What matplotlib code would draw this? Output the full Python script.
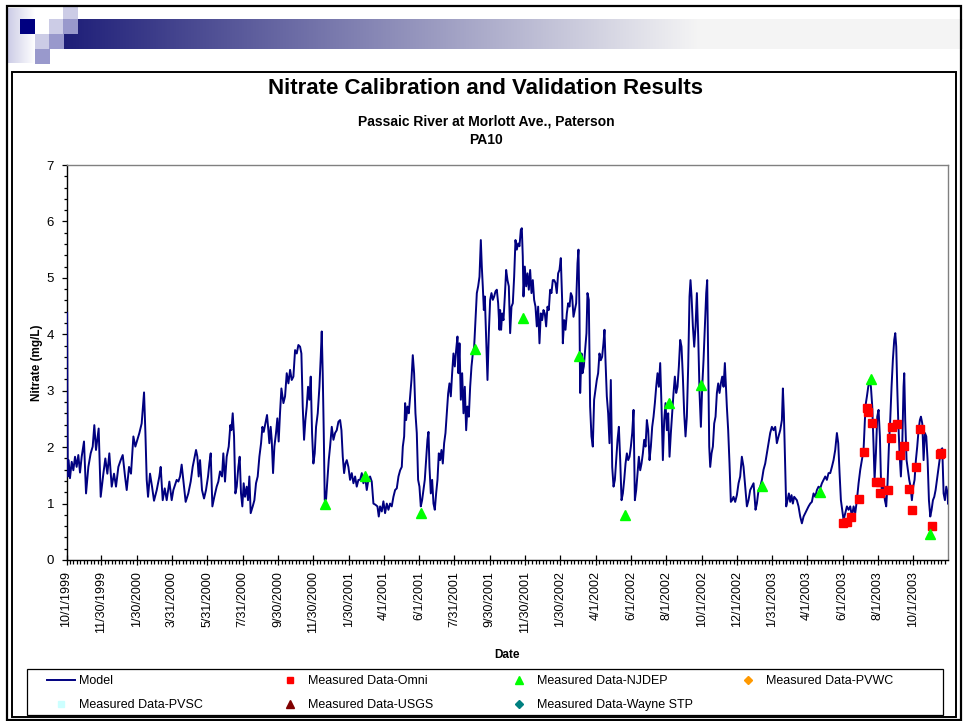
import matplotlib
matplotlib.use("Agg")
import matplotlib.pyplot as plt
from matplotlib.lines import Line2D
from matplotlib.patches import Rectangle
from matplotlib.ticker import MultipleLocator, FixedLocator
from datetime import date
import numpy as np

plt.rcParams['font.family'] = ['Liberation Sans', 'DejaVu Sans']

'''
    CHART DATA (days counted from START)
'''
START = date(1999, 10, 1)
END = date(2003, 11, 30)

TICK_DATES = ["1999-10-01", "1999-11-30", "2000-01-30", "2000-03-31", "2000-05-31",
              "2000-07-31", "2000-09-30", "2000-11-30", "2001-01-30", "2001-04-01",
              "2001-06-01", "2001-07-31", "2001-09-30", "2001-11-30", "2002-01-30",
              "2002-04-01", "2002-06-01", "2002-08-01", "2002-10-01", "2002-12-01",
              "2003-01-31", "2003-04-01", "2003-06-01", "2003-08-01", "2003-10-01"]

model_day = [
    1, 2.2, 3.6, 6, 9, 11.8, 14.7, 17.5, 20.4, 23.3, 26.2, 30.2, 33.7, 37.7, 41.7, 45.2,
    48, 50.9, 55.5, 59, 63.6, 67, 70.5, 73.9, 78, 82, 85.4, 89.5, 93.5, 97, 101, 103.9,
    107.9, 111.3, 115.4, 118.8, 122.3, 125.7, 129.7, 133.8, 136.1, 138.4, 140.7, 144.1,
    147.6, 151, 155.7, 160.2, 162.5, 166, 169.5, 172.9, 177.5,
    181.5, 184.4, 187.2, 190.1, 193, 195.9, 198.7, 201.6, 205.6, 210.2, 214.3, 217.7,
    220, 223.5, 225.8, 228.1, 230.4, 233.8, 237.3, 240.7, 244.2, 246.5, 248.8, 251.7,
    255.1, 259.1, 262, 264.9, 268.3, 270.6, 273.5, 276.4, 279.9, 282.7, 284.5, 286.8,
    289.1, 291.4, 293.7, 296.5, 298.8, 301.1, 303.4, 305.7, 308, 310.9, 313.2, 315.5,
    317.8, 321.3, 324.2, 327, 329.9, 332.8, 335.7, 338, 340.3, 343.1, 346, 348.3, 350,
    352.3, 354.1, 356.4, 358.7, 361.5, 363.8, 366.1, 368.4, 370.8,
    374.3, 377.1, 380, 382.9, 385.8, 388.6, 391.5, 394.4, 397.3, 400.1, 403, 405.3,
    407.6, 409.9, 412.2, 414.5, 416.8, 419.1, 421.4, 423.7, 426, 428.3, 430.6, 433.5,
    436.4, 438.7, 440.4, 442.1, 443.9, 445.6, 447.9, 450.2, 452.5, 454.8, 457.7, 460.6,
    463.4, 466.3, 469.2, 472.1, 474.4, 476.7, 479, 481.3, 483.6, 486.4, 489.3, 492.2,
    495.1, 498, 500.8, 503.7, 506.6, 509.5, 512.3, 515.2, 518.1, 520.4, 523.8, 526.7,
    529.6, 533, 536.5, 538.8, 541.1, 544, 546.8, 549.7, 552.6, 555.5, 558.3, 561.2, 564.1,
    567, 569.9, 572.8, 575.7, 578.5, 580.3, 582.6, 584.3, 586, 588.3, 590.6, 592.9,
    595.2, 597.5, 599.8, 602.1, 604.4, 606.7, 609, 611.3, 613.6, 615.9, 618.2, 620.5,
    622.8, 624.6, 626.3, 628.6, 630.9, 633.2, 635.5, 637.8, 640.1, 642.4, 644.7, 647,
    649.3, 651.6, 653.9, 656.2, 658.5, 660.8, 663.1, 665.4, 667.7, 670, 672.3, 674.6,
    676.3, 678.1, 680.4, 682.7, 685, 687.3, 689.6, 691.9, 694.2, 696.5, 698.8, 701.1,
    703.4, 705.7, 708, 710.3, 712.6, 714.9, 716.6, 718.3, 720.1, 721.8, 724.1, 726.4,
    728.7, 731, 733.3, 735.6, 737.9, 740.2, 742.5, 744.8, 747.1,
    748.2, 749.9, 751.7, 754, 756.3, 758.6, 760.9, 763.2, 765.5, 767.8, 770.1, 772.4,
    774.7, 777, 779.3, 781.6, 783.9, 785.6, 787.3, 788.5, 790.8, 793.1, 795.4, 797.7,
    800, 802.3, 804.6, 806.9, 809.2, 811.5, 813.8, 816.1, 818.4, 820.7, 823, 825.3,
    827.6, 829.9, 832.2, 834.5, 836.8, 839.1, 841.4, 843.7, 846, 848.3, 850.6, 852.9,
    855.2, 856.4, 858.7, 861, 863.3, 865.6, 867.9, 870.2, 872.5, 874.8, 877.1, 879.4,
    881.7, 883.4, 885.1, 886.3, 888.6, 890.3, 892.6, 894.9, 897.2, 898.9, 901.2, 903.5,
    905.8, 908.1, 910.4, 912.7, 915, 917.3, 919.6, 921.9, 924.2, 926.5, 928.3, 930,
    932.3, 934.6, 936.9, 939.2,
    941.6, 943.9, 946.2, 948.5, 950.8, 953.1, 955.4, 957.7, 960, 962.3, 964.6, 966.9,
    969.2, 971.5, 973.8, 976.1, 978.4, 980.7, 983, 985.3, 987.6, 989.9, 992.2, 994.5,
    996.8, 999.1, 1001.4, 1003.7, 1006, 1008.3, 1010.6, 1012.9, 1015.2, 1017.5, 1019.8,
    1022.1, 1024.4, 1026.7, 1029, 1031.3, 1033.6, 1035.9, 1038.2, 1040.5, 1042.8,
    1045.1, 1047.4, 1049.7, 1052, 1054.3, 1056.6, 1058.9, 1061.2, 1063.5, 1065.8,
    1068.1, 1070.4, 1072.7, 1075, 1076.7, 1078.5, 1080.8, 1083.1, 1085.4, 1087.7, 1090,
    1092.3, 1094.6, 1096.9, 1099.2, 1101.5, 1103.8, 1105.5, 1107.2, 1109, 1110.7, 1113,
    1115.3, 1117.6, 1119.9, 1122.2, 1124.5, 1126.8, 1129.1, 1131.4, 1133.7, 1136,
    1139.4, 1141.7, 1144, 1146.3, 1148.6, 1150.9, 1153.8, 1156.7, 1159.6, 1162.4,
    1165.3, 1168.2, 1171.1, 1174, 1176.8, 1179.7, 1182.6, 1185.5, 1188.9, 1191.2,
    1194.1, 1197, 1199.9, 1202.7, 1205.6, 1208.5, 1211.4, 1214.2, 1217.1, 1220, 1222.9,
    1225.7, 1228.6, 1231.5, 1234.4, 1236.1, 1237.8, 1240.1, 1241.8, 1244.1, 1246.4,
    1248.7, 1251, 1253.3, 1255.6, 1257.9, 1260.2, 1263.1, 1266, 1268.9, 1271.8, 1274.6,
    1277.5, 1280.4, 1283.3, 1286.1, 1289, 1291.9, 1294.8, 1297.6, 1300.5, 1303.4,
    1306.3, 1309.2, 1312, 1314.9, 1317.8, 1320.7, 1323.5, 1326.4, 1329.3, 1331.6,
    1333.9, 1336.2, 1338.5, 1340.8, 1343.7, 1346.6, 1349.4, 1352.3, 1355.2, 1358.1,
    1360.9, 1363.8, 1366.7, 1369.6, 1372.4, 1375.3, 1377.6, 1379.3, 1381.1, 1383.4,
    1385.7, 1388, 1390.3, 1392.6, 1394.3, 1396.6, 1398.9, 1401.2, 1403.5, 1405.2,
    1407.5, 1409.8, 1412.1, 1414.4, 1416.7, 1419, 1421.3, 1423.6, 1425.9, 1428.2, 1430,
    1431.7, 1433.4, 1435.1, 1437.4, 1439.7, 1442, 1444.3, 1445.5, 1447.2, 1449.5,
    1451.8, 1454.1, 1456.4, 1458.7, 1461, 1463.3, 1465.6, 1467.9, 1470.2, 1472.5,
    1474.3, 1476.6, 1478.9, 1481.2, 1483.5, 1485.8, 1488.1, 1490.4, 1492.7, 1495,
    1497.3, 1499.6, 1501.9, 1504.2, 1506.5, 1508.8, 1511.1, 1513.4, 1515.7, 1518,
    1520.3, 1521]

model_nitrate = [
    4.38, 1.48, 1.77, 1.45, 1.74, 1.59, 1.83, 1.65, 1.86, 1.55, 1.83, 2.10, 1.18, 1.65, 1.89, 2.01,
    2.39, 1.95, 2.33, 1.12, 1.53, 1.80, 1.53, 1.89, 1.30, 1.53, 1.30, 1.65, 1.77, 1.86, 1.48, 1.24,
    1.65, 1.53, 2.19, 2.01, 2.13, 2.25, 2.42, 2.97, 2.27, 1.42, 1.12, 1.53,
    1.30, 1.05, 1.24, 1.48, 1.65, 1.06, 1.27, 1.06, 1.39,
    1.06, 1.24, 1.33, 1.42, 1.39, 1.48, 1.69, 1.42, 1.03, 1.18, 1.39, 1.65,
    1.77, 1.95, 1.83, 1.48, 1.77, 1.24, 1.09, 1.24, 1.48, 1.71, 1.89, 0.95,
    1.12, 1.30, 1.39, 1.57, 1.48, 1.89, 1.39, 1.83, 2.01, 2.39, 2.30, 2.60,
    2.19, 1.18, 1.30, 1.65, 1.83, 1.18, 0.95, 1.36, 1.12, 1.30, 1.06, 1.48,
    0.83, 0.95, 1.06, 1.36, 1.48, 1.83, 2.07, 2.36, 2.27, 2.42, 2.57, 2.30, 2.07,
    2.36, 2.13, 1.54, 2.01, 2.25, 2.51, 2.10, 2.60, 3.04,
    2.78, 2.90, 3.31, 3.13, 3.37, 3.19, 3.25, 3.72, 3.66, 3.81, 3.78, 3.66,
    2.72, 2.13, 2.48, 2.72, 3.07, 2.84, 3.25, 2.25, 1.71, 1.89, 2.36, 2.60,
    3.07, 3.60, 4.05, 3.31, 2.25, 1.06, 1.08, 1.42, 1.77, 2.01, 2.36, 2.13,
    2.25, 2.30, 2.45, 2.48, 2.30, 1.83, 1.54, 1.71, 1.77, 1.65, 1.42, 1.54,
    1.36, 1.48, 1.30, 1.42, 1.42, 1.54, 1.36, 1.48, 1.24, 1.39, 1.48, 1.39,
    1.00, 0.98, 0.95, 0.77, 0.95, 0.86, 1.04, 0.83, 1.00, 0.89, 1.00, 0.95, 1.12,
    1.24, 1.27, 1.48, 1.59, 1.65, 2.01, 2.19, 2.78, 2.48, 2.72, 2.60, 2.90,
    3.19, 3.63, 3.31, 2.60, 2.25, 1.42, 1.30, 0.95, 1.06, 1.24, 1.42, 1.77,
    2.13, 2.27, 1.65, 1.18, 1.42, 1.00, 0.89, 1.18, 1.42, 1.89, 1.77, 1.95,
    1.71, 2.07, 2.25, 2.60, 2.95, 3.13, 2.90, 3.31, 3.66, 3.43, 3.72, 3.96,
    3.31, 3.84, 2.84, 3.31, 2.60, 3.07, 2.30, 2.72, 2.54, 3.07, 3.43, 3.66,
    3.78, 4.26, 4.73, 4.85, 5.02, 5.67, 5.20, 4.85, 4.43, 4.67, 3.90, 3.19,
    4.02, 4.61, 4.73, 4.61, 4.67, 4.76, 4.79, 4.55, 4.08,
    4.43, 4.08, 4.37, 4.25, 4.67, 5.14, 4.96, 4.85, 4.02, 4.49, 4.55, 5.02,
    5.67, 5.50, 5.61, 5.56, 5.85, 5.88, 5.38, 4.67, 5.20, 4.85, 5.08, 4.79,
    5.14, 4.73, 4.96, 4.61, 4.49, 4.14, 4.49, 3.84, 4.37, 4.25, 4.43, 4.37,
    4.14, 4.49, 4.43, 4.79, 4.73, 4.96, 4.96, 4.91, 4.73, 5.08, 5.14, 5.35,
    4.61, 3.84, 4.25, 4.08, 4.37, 4.55, 4.49, 4.73, 4.67, 4.31, 4.43, 4.55,
    5.26, 5.50, 4.37, 2.96, 3.66, 3.31, 3.43, 3.72, 4.02, 4.73, 4.61, 2.72,
    2.19, 2.01, 2.84, 3.01, 3.19, 3.31, 3.66, 3.54, 3.60, 3.84, 4.08, 3.54,
    2.90, 2.60, 2.07, 3.19,
    1.65, 1.30, 1.42, 1.77, 2.13, 2.36, 1.77, 1.06, 1.18, 1.42, 1.71, 1.89,
    1.77, 1.83, 2.01, 2.25, 2.66, 1.06, 1.24, 1.54, 1.83, 1.59, 1.71, 1.89,
    2.13, 2.01, 2.48, 2.30, 1.77, 2.01, 2.36, 2.54, 2.78, 3.07, 3.31,
    3.07, 3.49, 2.72, 1.77, 2.48, 2.78, 2.30, 2.60, 1.83, 2.25,
    2.60, 2.96, 3.25, 2.96, 3.07, 3.43, 3.90, 3.78, 3.25, 2.60,
    2.19, 2.54, 3.43, 4.67, 4.96, 4.67, 4.14, 3.78, 4.14, 4.73, 3.96,
    2.96, 2.36, 3.07, 3.55, 4.14, 4.73, 4.96, 3.55, 2.01, 1.65, 1.89,
    2.01, 2.42, 2.54, 2.96, 3.13, 2.96, 3.13, 3.25, 3.07, 3.49,
    2.72, 2.30, 1.71, 1.03, 1.06, 1.12, 1.03, 1.15, 1.36, 1.48,
    1.83, 1.65, 1.30, 0.95, 1.06, 1.24, 1.30, 1.36, 0.89, 1.00,
    1.24, 1.30, 1.42, 1.60, 1.71, 1.89, 2.07, 2.25, 2.36, 2.30, 2.36,
    2.07, 2.19, 2.30, 2.48, 3.04, 2.60, 1.65, 0.95, 1.06, 1.18,
    1.03, 1.15, 1.00, 1.12, 1.09, 1.06, 0.95, 0.77, 0.65, 0.77, 0.83,
    0.89, 0.95, 1.00, 1.03, 1.18, 1.12, 1.24, 1.30, 1.27, 1.36,
    1.42, 1.48, 1.42, 1.54, 1.54, 1.65, 1.77, 1.95, 2.25, 2.07,
    1.54, 1.06, 0.89, 0.71, 0.83, 0.95, 0.89, 0.95, 0.77, 0.95,
    0.83, 1.06, 1.36, 1.60, 1.77, 1.95, 2.48, 2.78, 2.90, 3.07,
    3.19, 3.07, 2.72, 2.01, 1.42, 1.89, 2.54, 2.66, 2.19, 1.48,
    1.12, 1.30, 1.06, 0.95, 1.36, 2.01, 2.48, 3.07, 3.55, 3.90, 4.02,
    3.78, 3.07, 2.48, 1.89, 1.48, 2.01, 3.07, 3.31, 2.48, 1.77,
    1.60, 1.42, 1.30, 1.06, 1.30, 1.42, 1.77, 2.01, 2.30, 2.48,
    2.54, 2.42, 1.77, 2.25, 2.19, 1.77, 1.06, 0.77, 0.89, 1.06,
    1.12, 1.24, 1.42, 1.60, 1.77, 1.95, 1.98, 1.18, 1.06, 1.30,
    1.18, 1.00]

omni_day = [1339.6, 1346.5, 1354, 1367.8, 1375.3, 1381.1, 1382.5, 1389.1, 1396.6, 1404,
            1404.5, 1417.4, 1423, 1424.8, 1432.3, 1437.4, 1445.5, 1453.6, 1459.3, 1466.3,
            1473.2, 1493.9, 1507.7, 1508.5]
omni_nitrate = [0.65, 0.68, 0.77, 1.08, 1.91, 2.69, 2.62, 2.42, 1.39, 1.39,
                1.18, 1.24, 2.16, 2.36, 2.41, 1.86, 2.02, 1.26, 0.89, 1.65,
                2.33, 0.61, 1.87, 1.90]

njdep_day = [446, 515, 611.8, 705.6, 787.4, 884.6, 964, 1039.6, 1095, 1199.8, 1300.5, 1389, 1489.8]
njdep_nitrate = [1.00, 1.49, 0.83, 3.74, 4.28, 3.62, 0.80, 2.78, 3.11, 1.32, 1.20, 3.21, 0.46]

TITLE = "Nitrate Calibration and Validation Results"
SUBTITLE = "Passaic River at Morlott Ave., Paterson"
STATION = "PA10"
X_LABEL = "Date"
Y_LABEL = "Nitrate (mg/L)"

W, H = 963, 721
fig = plt.figure(figsize=(W / 100, H / 100), dpi=100)

# slide decoration, drawn in pixel coordinates
deco = fig.add_axes([0, 0, 1, 1], zorder=0)
deco.set_xlim(0, W)
deco.set_ylim(H, 0)
deco.axis("off")

navy = np.array([30, 30, 120]) / 255
light = "#ccccE6"
medium = "#9999cc"

fade = np.linspace(0, 1, 256)
left_grad = np.ones((1, 256, 3))
for i in range(3):
    left_grad[0, :, i] = np.array([204, 204, 230])[i] / 255 * (1 - fade) + fade
deco.imshow(left_grad, extent=(8, 35, 63, 8), aspect="auto", zorder=1)

bar = np.ones((1, 512, 3))
t = np.clip(np.linspace(0, 1, 512) * (W - 63) / (700 - 63), 0, 1)
for i in range(3):
    bar[0, :, i] = navy[i] * (1 - t) + 0.96 * t
deco.imshow(bar, extent=(63, W, 49, 19), aspect="auto", zorder=1)

for (x0, y0, c) in [(63, 7, light), (20, 19, "#000080"), (49, 19, light), (63, 19, medium),
                    (35, 34, light), (49, 34, medium), (35, 49, medium)]:
    deco.add_patch(Rectangle((x0, y0), 14.5, 12 if y0 == 7 else 15, color=c, lw=0, zorder=2))

deco.add_patch(Rectangle((6.5, 6), 954, 713.5, fill=False, ec="black", lw=1.6, zorder=3))
deco.add_patch(Rectangle((11.5, 72), 944.5, 645, fill=False, ec="black", lw=1.4, zorder=3))
deco.add_patch(Rectangle((27, 669), 916, 46, fill=False, ec="black", lw=0.9, zorder=3))

# titles
fig.text(485.5 / W, 1 - 88 / H, TITLE, ha="center", va="center", fontsize=16, weight="bold")
fig.text(486 / W, 1 - 121 / H, SUBTITLE, ha="center", va="center", fontsize=10, weight="bold")
fig.text(486 / W, 1 - 140 / H, STATION, ha="center", va="center", fontsize=10, weight="bold")

# main plot
left, right, top, bottom = 66.5, 948, 165, 560
ax = fig.add_axes([left / W, 1 - bottom / H, (right - left) / W, (bottom - top) / H], zorder=1)

ax.plot(model_day, model_nitrate, color="#000080", lw=1.4, label="Model", zorder=3)
ax.plot(omni_day, omni_nitrate, ls="none", marker="s", ms=6.2, color="#ff0000",
        label="Measured Data-Omni", zorder=4)
ax.plot(njdep_day, njdep_nitrate, ls="none", marker="^", ms=7, color="#00ff00",
        label="Measured Data-NJDEP", zorder=4)

end_day = (END - START).days
tick_days = [(date.fromisoformat(d) - START).days for d in TICK_DATES]
tick_labels = [f"{date.fromisoformat(d).month}/{date.fromisoformat(d).day}/{date.fromisoformat(d).year}"
               for d in TICK_DATES]
minor_days = []
edges = tick_days + [end_day]
for a, b in zip(edges[:-1], edges[1:]):
    minor_days += list(np.linspace(a, b, 11)[1:-1])

ax.set_xlim(0, end_day)
ax.set_ylim(0, 7)
ax.set_xticks(tick_days)
ax.set_xticklabels(tick_labels, rotation=90, fontsize=9)
ax.xaxis.set_minor_locator(FixedLocator(minor_days))
ax.yaxis.set_major_locator(MultipleLocator(1))
ax.yaxis.set_minor_locator(MultipleLocator(0.2))
ax.tick_params(axis="x", which="major", direction="inout", length=6.5, width=0.9, pad=5)
ax.tick_params(axis="x", which="minor", direction="out", length=2.8, width=0.9)
ax.tick_params(axis="y", which="major", direction="out", length=3.4, width=0.9, pad=5.5, labelsize=9.5)
ax.tick_params(axis="y", which="minor", direction="out", length=2.2, width=0.9)

for side in ["top", "right"]:
    ax.spines[side].set_color("#808080")
    ax.spines[side].set_linewidth(1.0)
for side in ["left", "bottom"]:
    ax.spines[side].set_color("black")
    ax.spines[side].set_linewidth(1.0)

ax.set_ylabel(Y_LABEL, fontsize=8.5, weight="bold")
ax.yaxis.set_label_coords(-0.027, 0.5)
ax.set_xlabel(X_LABEL, fontsize=8.5, weight="bold")
ax.xaxis.set_label_coords(0.5, -0.226)

# legend, four columns like the original
columns = [
    [(Line2D([], [], color="#000080", lw=1.4), "Model"),
     (Line2D([], [], ls="none", marker="s", ms=5, color="#ccffff"), "Measured Data-PVSC")],
    [(Line2D([], [], ls="none", marker="s", ms=5, color="#ff0000"), "Measured Data-Omni"),
     (Line2D([], [], ls="none", marker="^", ms=5.5, color="#800000"), "Measured Data-USGS")],
    [(Line2D([], [], ls="none", marker="^", ms=5.5, color="#00ff00"), "Measured Data-NJDEP"),
     (Line2D([], [], ls="none", marker="D", ms=4.5, color="#008080"), "Measured Data-Wayne STP")],
    [(Line2D([], [], ls="none", marker="D", ms=4.5, color="#ff9900"), "Measured Data-PVWC")],
]
col_x = [47, 276, 505, 734]
for x0, col in zip(col_x, columns):
    fig.legend([h for h, _ in col], [l for _, l in col], loc="upper left",
               bbox_to_anchor=(x0 / W, 1 - 675 / H), frameon=False, fontsize=9,
               borderpad=0, borderaxespad=0, handlelength=2.24, handletextpad=0.3,
               labelspacing=0.95)

fig.savefig("out.png", dpi=100)
